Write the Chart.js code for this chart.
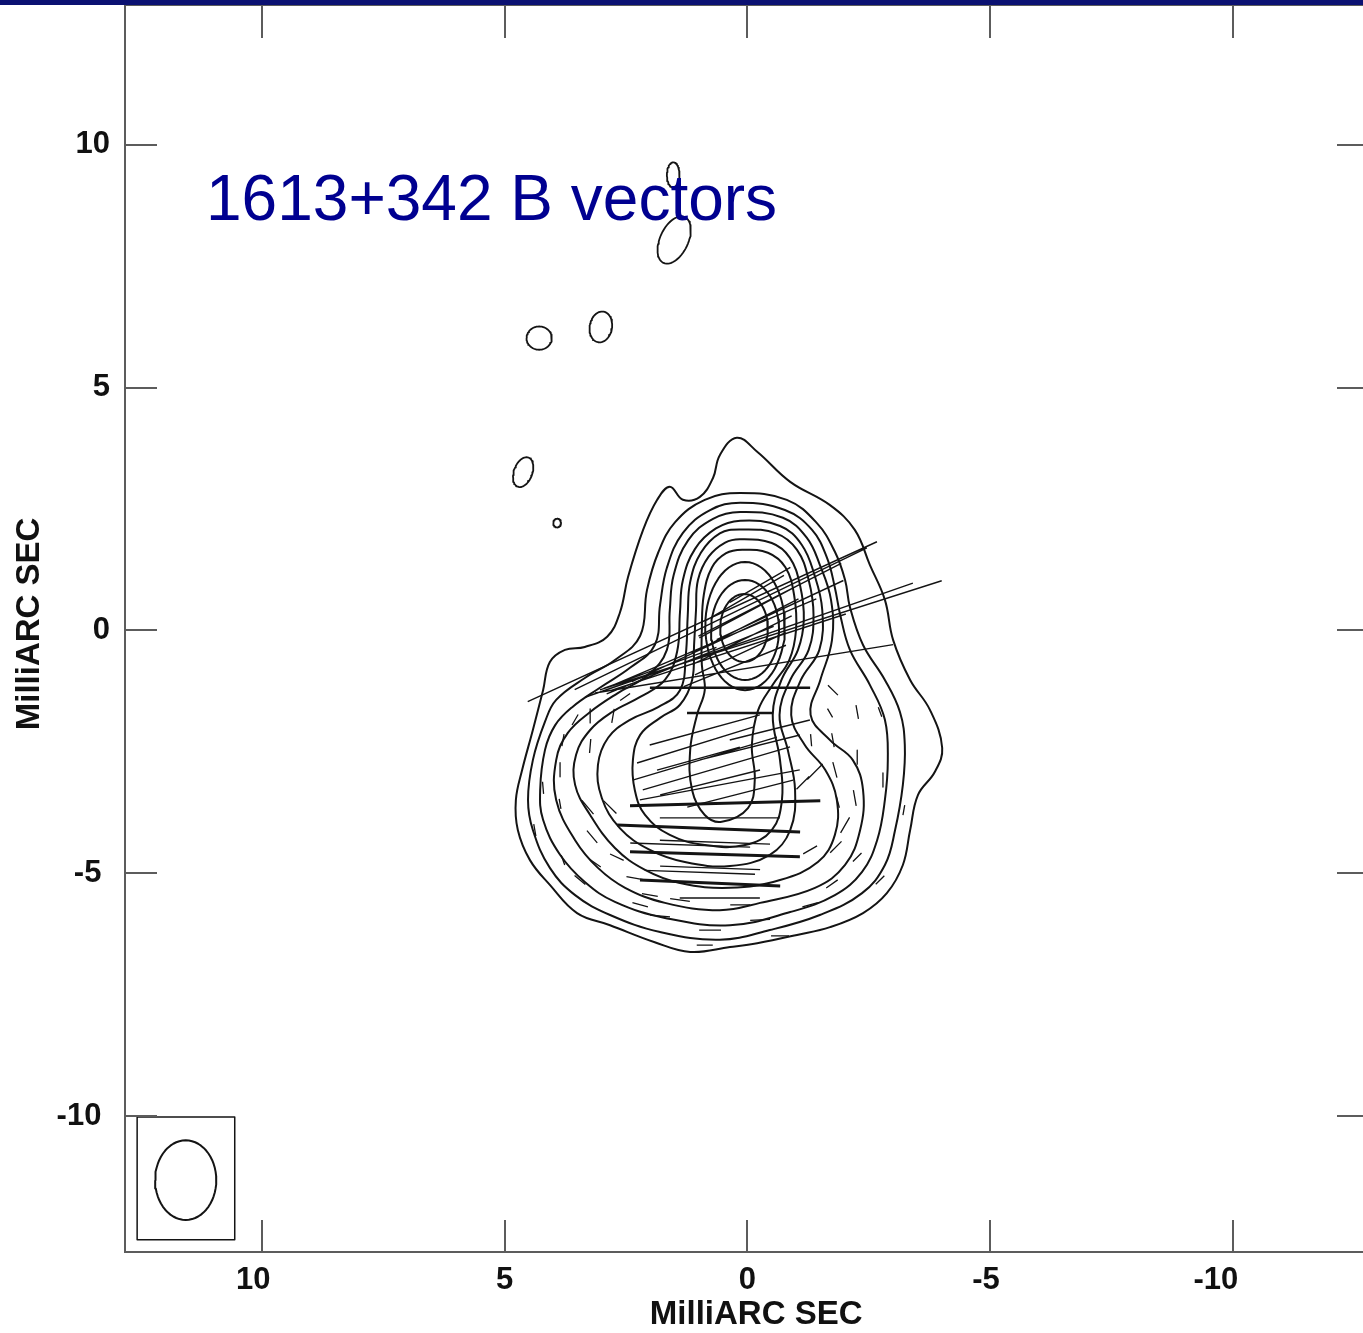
<!DOCTYPE html>
<html lang="en">
<head>
<meta charset="UTF-8">
<title>1613+342 B vectors</title>
<script src="https://cdn.jsdelivr.net/npm/chart.js"></script>
<style>
  body { margin: 0; background: #fff; }
  #wrap { position: relative; width: 1363px; height: 1333px; overflow: hidden; }
  #map { position: absolute; left: 0; top: 0; }
  #topbar { position: absolute; left: 0; top: 0; width: 1363px; height: 5px; background: #0b1172; z-index: 2; }
  #mapTitle { position: absolute; left: 206px; top: 166px; font: 64px "Liberation Sans", Arial, sans-serif;
              line-height: 64px; color: #000090; white-space: nowrap; z-index: 1; }
</style>
</head>
<body>
<div id="wrap">
  <canvas id="map" width="1375" height="1333" style="width:1375px;height:1333px"></canvas>
  <div id="mapTitle">1613+342 B vectors</div>
  <div id="topbar"></div>
</div>
<script>
// tick positions (mas) on both axes
const tickValues = [-10, -5, 0, 5, 10];

// total intensity contours, [RA offset, Dec offset] in mas, lowest level first
const outerContour = [[0.22,3.97],[-0.20,3.68],[-0.88,3.06],[-1.70,2.58],[-2.21,2.07],[-2.52,1.35],[-2.83,0.63],[-3.00,-0.20],
  [-3.35,-1.02],[-3.76,-1.64],[-4.01,-2.42],[-3.86,-2.91],[-3.51,-3.39],[-3.35,-4.11],[-3.20,-4.83],[-2.87,-5.41],[-2.38,-5.82],
  [-1.70,-6.11],[-1.02,-6.27],[-0.20,-6.44],[0.36,-6.52],[1.18,-6.62],[1.91,-6.42],[2.83,-6.07],[3.51,-5.82],[4.07,-5.24],
  [4.48,-4.73],[4.73,-4.11],[4.77,-3.49],[4.64,-2.87],[4.42,-2.05],[4.21,-1.23],[4.07,-0.65],[3.76,-0.40],[3.35,-0.34],
  [2.89,-0.13],[2.63,0.36],[2.46,1.10],[2.15,2.07],[1.86,2.69],[1.60,2.96],[1.33,2.69],[0.98,2.75],[0.71,3.14],[0.57,3.61]];
const contour2 = [[0.15,2.83],[-0.81,2.69],[-1.43,2.21],[-1.80,1.62],[-2.01,1.04],[-2.11,0.48],[-2.38,-0.30],[-2.83,-1.02],
  [-3.14,-1.68],[-3.24,-2.36],[-3.20,-3.18],[-3.04,-4.11],[-2.83,-4.83],[-2.36,-5.41],[-1.49,-5.86],[-0.46,-6.17],[0.57,-6.37],
  [1.80,-6.21],[2.83,-5.86],[3.55,-5.45],[4.07,-4.89],[4.42,-4.11],[4.52,-3.49],[4.42,-2.67],[4.17,-1.88],[3.94,-1.43],
  [3.35,-0.98],[2.73,-0.61],[2.21,-0.11],[2.07,0.83],[1.84,1.60],[1.49,2.23],[0.88,2.69]];
const contour3 = [[0.15,2.63],[-0.77,2.48],[-1.33,2.07],[-1.64,1.49],[-1.80,0.88],[-1.91,0.32],[-2.11,-0.40],[-2.52,-1.12],
  [-2.83,-1.84],[-2.89,-2.67],[-2.83,-3.49],[-2.67,-4.32],[-2.36,-4.97],[-1.80,-5.45],[-0.88,-5.80],[0.36,-6.07],[1.70,-5.92],
  [2.73,-5.59],[3.35,-5.18],[3.86,-4.62],[4.21,-3.90],[4.27,-3.29],[4.17,-2.46],[3.96,-1.95],[3.61,-1.58],[3.04,-1.18],
  [2.42,-0.77],[1.91,-0.30],[1.80,0.53],[1.66,1.29],[1.33,2.01],[0.77,2.48]];
const contour4 = [[0.15,2.44],[-0.73,2.32],[-1.22,1.91],[-1.49,1.35],[-1.72,0.63],[-1.74,-0.20],[-1.50,-1.02],[-1.30,-1.74],
  [-1.70,-2.26],[-2.17,-2.67],[-2.38,-3.29],[-2.32,-4.11],[-2.01,-4.83],[-1.39,-5.30],[-0.26,-5.61],[0.57,-5.76],[1.70,-5.61],
  [2.52,-5.30],[3.08,-4.89],[3.55,-4.32],[3.94,-3.49],[3.94,-2.67],[3.70,-2.11],[3.24,-1.68],[2.67,-1.29],[2.05,-0.92],
  [1.66,-0.40],[1.60,0.42],[1.52,1.14],[1.22,1.86],[0.71,2.30]];
const contour5 = [[0.15,2.26],[-0.67,2.15],[-1.12,1.76],[-1.38,1.14],[-1.54,0.42],[-1.48,-0.40],[-1.10,-1.02],[-0.90,-1.74],
  [-1.18,-2.36],[-1.60,-2.87],[-1.84,-3.49],[-1.80,-4.21],[-1.45,-4.77],[-0.67,-5.14],[0.36,-5.30],[1.39,-5.20],[2.11,-4.93],
  [2.73,-4.48],[3.24,-3.80],[3.55,-3.18],[3.53,-2.56],[3.24,-2.05],[2.79,-1.68],[2.21,-1.37],[1.70,-1.02],[1.45,-0.44],
  [1.39,0.38],[1.33,1.04],[1.08,1.68],[0.65,2.10]];
const contour6 = [[0.15,2.08],[-0.59,2.00],[-1.02,1.66],[-1.26,1.04],[-1.36,0.32],[-1.26,-0.40],[-0.88,-1.02],[-0.66,-1.74],
  [-0.83,-2.46],[-0.98,-3.29],[-0.88,-4.11],[-0.46,-4.62],[0.36,-4.85],[1.29,-4.77],[2.01,-4.52],[2.63,-4.07],[3.00,-3.45],
  [3.08,-2.77],[2.87,-2.21],[2.42,-1.84],[1.84,-1.58],[1.39,-1.23],[1.27,-0.50],[1.23,0.32],[1.18,1.00],[0.96,1.60],[0.57,2.00]];
const contour7 = [[0.15,1.88],[-0.50,1.80],[-0.87,1.50],[-1.08,0.94],[-1.16,0.22],[-1.04,-0.40],[-0.70,-1.02],[-0.52,-1.74],
  [-0.67,-2.67],[-0.71,-3.49],[-0.50,-4.11],[0.05,-4.42],[0.88,-4.42],[1.60,-4.21],[2.11,-3.80],[2.32,-3.29],[2.36,-2.67],
  [2.21,-2.15],[1.80,-1.80],[1.39,-1.53],[1.14,-1.02],[1.10,-0.30],[1.06,0.42],[1.02,1.04],[0.80,1.52],[0.46,1.81]];
const pearContour = [[0.11,1.66],[-0.42,1.60],[-0.78,1.30],[-0.96,0.73],[-1.00,0.01],[-0.86,-0.61],[-0.52,-1.12],[-0.22,-1.64],
  [-0.09,-2.36],[-0.15,-3.08],[-0.01,-3.66],[0.53,-3.94],[0.88,-3.80],[1.14,-3.29],[1.18,-2.46],[1.04,-1.74],[0.88,-1.23],
  [0.94,-0.71],[0.94,0.01],[0.90,0.73],[0.73,1.30],[0.44,1.59]];

// core contours and isolated components: [RA, Dec, half-axis RA, half-axis Dec, tilt deg]
const coreRings = [[0.07,0.05,0.49,0.70,0],[0.05,0.01,0.70,1.03,0],[0.05,0.09,0.82,1.32,0]];
const islands = [[1.53,9.38,0.13,0.26,0],[1.51,8.04,0.29,0.52,25],[4.29,6.02,0.26,0.24,0],
  [3.02,6.25,0.23,0.32,10],[4.62,3.26,0.19,0.32,20],[3.92,2.21,0.08,0.09,0]];
const beam = [11.57, -11.32, 0.63, 0.82, 0];
const beamBox = [12.57, -10.02, 10.56, -12.55];

// B-field vectors: [RA, Dec, length mas, position angle deg]
const coreVectors = [[0.93,0.18,7.91,-65.4],[0.55,0.24,6.69,-64.1],[-0.03,-0.20,7.15,-70.8],[-0.48,-0.10,7.39,-72.3],
  [0.07,-0.79,6.22,-80.8],[0.05,0.67,1.85,-60],[-0.01,0.38,2.27,-62],[0.05,0.09,2.47,-63],[0.11,-0.20,2.27,-64],
  [0.15,-0.48,2.06,-65],[0.26,-0.73,2.27,-68],[-0.26,0.94,1.44,-60],[0.98,-0.40,3.09,-65],[1.18,-0.61,3.71,-68],
  [-0.67,0.42,2.88,-65],[-0.46,0.63,3.30,-63],[1.80,-0.77,2.47,-70],[0.70,-0.25,4.60,-67],[0.40,-0.45,5.10,-72]];
const neckVectors = [[0.36,-1.18,3.30,90],[0.36,-1.70,1.77,90]];
const jetVectors = [[1.08,-2.36,2.50,-72.8],[0.88,-2.64,3.10,-73.4],[0.64,-2.84,3.16,-73.7],[0.57,-3.18,3.35,-79.4],
  [0.15,-3.36,2.25,-75.7],[1.01,-2.64,1.77,-74.5],[0.88,-2.05,2.35,-74.7],[-0.05,-2.41,2.12,-76],[0.77,-3.13,2.12,-76],
  [-0.46,-2.05,1.70,-76],[0.67,-4.36,2.27,88],[0.77,-4.89,2.06,88],[0.57,-3.86,2.47,90],
  [1.18,-4.42,2.47,88],[0.98,-4.98,2.27,88],[0.57,-5.51,1.65,90]];
const thickVectors = [[0.46,-3.56,3.92,-88.5],[0.80,-4.08,3.77,87.8],[0.67,-4.61,3.50,88.3],[0.77,-5.20,2.89,87.5]];
const fieldDashes = [[3.24,-1.76,0.29,0],[2.77,-1.76,0.29,-10],[3.24,-2.38,0.29,-5],[3.80,-2.26,0.25,-10],
  [4.21,-3.24,0.25,5],[3.86,-3.57,0.21,10],[3.80,-4.73,0.21,20],[3.29,-3.64,0.37,40],[2.83,-3.64,0.37,45],
  [3.20,-4.25,0.33,40],[3.14,-4.79,0.29,55],[2.32,-5.10,0.35,80],[2.69,-4.67,0.31,65],[2.52,-1.37,0.25,-55],
  [3.55,-1.84,0.25,-30],[3.86,-2.87,0.29,0],[4.38,-4.11,0.25,10],[2.21,-5.65,0.33,75],[3.45,-5.14,0.29,50],
  [-1.76,-1.23,0.29,45],[-1.70,-1.70,0.21,30],[-2.26,-1.68,0.29,10],[-2.73,-1.68,0.21,20],[-1.76,-2.26,0.29,10],
  [-1.31,-2.26,0.25,5],[-1.80,-2.87,0.33,15],[-2.26,-2.61,0.29,0],[-2.79,-3.08,0.29,0],[-1.86,-3.53,0.25,15],
  [-2.21,-3.45,0.33,10],[-1.82,-4.46,0.33,-45],[-1.74,-5.22,0.29,-55],[-2.26,-4.67,0.25,-45],[-2.73,-5.14,0.25,-45],
  [-3.22,-3.70,0.21,-10],[-1.39,-2.91,0.45,-45],[-1.14,-3.14,0.37,-45],[-2.01,-4.01,0.37,-30],[-1.29,-4.52,0.33,-60],
  [1.80,-5.88,0.41,85],[0.77,-6.17,0.45,90],[-0.26,-5.96,0.41,-87],[-0.67,-6.29,0.37,90],[0.88,-6.48,0.33,90],
  [-1.29,-5.65,0.33,-75],[1.39,-5.55,0.41,82],[0.15,-5.65,0.41,90],[2.01,-5.45,0.33,80]];

const ink = '#141414';

// closed smooth curve: neighbours are wrapped so the spline has no corner at the seam,
// and the two wrap-around pieces are left undrawn
function closedCurve(pts) {
  const n = pts.length;
  return [pts[n - 1], ...pts, pts[0], pts[1]].map(p => ({x: p[0], y: p[1]}));
}

function ellipse(e) {
  const [cx, cy, a, b, tilt] = e;
  const r = tilt * Math.PI / 180;
  const out = [];
  for (let i = 0; i < 60; i++) {
    const t = i / 60 * 2 * Math.PI;
    out.push({
      x: cx + a * Math.cos(t) * Math.cos(r) - b * Math.sin(t) * Math.sin(r),
      y: cy + a * Math.cos(t) * Math.sin(r) + b * Math.sin(t) * Math.cos(r)
    });
  }
  out.push(out[0]);
  return out;
}

// one line piece per vector, broken apart with empty points
function sticks(list) {
  const out = [];
  list.forEach(([x, y, len, pa]) => {
    const a = pa * Math.PI / 180;
    const dx = len / 2 * Math.sin(a), dy = len / 2 * Math.cos(a);
    out.push({x: x + dx, y: y + dy}, {x: x - dx, y: y - dy}, {x: null, y: null});
  });
  return out;
}

function lineSet(data, width, tension) {
  return {data, showLine: true, borderColor: ink, borderWidth: width, pointRadius: 0,
          borderJoinStyle: 'round', borderCapStyle: 'butt', tension, spanGaps: false, fill: false};
}

function contourSet(pts) {
  const set = lineSet(closedCurve(pts), 2, 0.4);
  const last = pts.length + 1;
  set.segment = {
    borderColor: c => (c.p0DataIndex === 0 || c.p0DataIndex === last) ? 'rgba(0,0,0,0)' : undefined
  };
  return set;
}

const datasets = [];
[outerContour, contour2, contour3, contour4, contour5, contour6, contour7, pearContour]
  .forEach(c => datasets.push(contourSet(c)));
coreRings.forEach(e => datasets.push(lineSet(ellipse(e), 2, 0)));
islands.forEach(e => datasets.push(lineSet(ellipse(e), 1.8, 0)));
datasets.push(lineSet(ellipse(beam), 2, 0));
datasets.push(lineSet([
  {x: beamBox[0], y: beamBox[1]}, {x: beamBox[2], y: beamBox[1]}, {x: beamBox[2], y: beamBox[3]},
  {x: beamBox[0], y: beamBox[3]}, {x: beamBox[0], y: beamBox[1]}], 1.5, 0));
datasets.push(lineSet(sticks(coreVectors), 1.4, 0));
datasets.push(lineSet(sticks(neckVectors), 2.4, 0));
datasets.push(lineSet(sticks(jetVectors), 1.4, 0));
datasets.push(lineSet(sticks(thickVectors), 3, 0));
datasets.push(lineSet(sticks(fieldDashes), 1.3, 0));

// frame with inward tick marks on all four sides
const frameTicks = {
  id: 'frameTicks',
  afterDatasetsDraw(chart) {
    const {ctx, chartArea: a, scales: {x, y}} = chart;
    ctx.save();
    ctx.strokeStyle = '#5c5c5c';
    ctx.lineWidth = 2;
    ctx.strokeRect(a.left, a.top, a.right - a.left, a.bottom - a.top);
    ctx.beginPath();
    tickValues.forEach(v => {
      const px = Math.round(x.getPixelForValue(v));
      ctx.moveTo(px, a.top); ctx.lineTo(px, a.top + 33);
      ctx.moveTo(px, a.bottom); ctx.lineTo(px, a.bottom - 32);
      const py = Math.round(y.getPixelForValue(v));
      ctx.moveTo(a.left, py); ctx.lineTo(a.left + 32, py);
      ctx.moveTo(a.right, py); ctx.lineTo(a.right - 32, py);
    });
    ctx.stroke();
    ctx.restore();
  }
};

const labelFont = {family: '"Liberation Sans", Arial, sans-serif', size: 31, weight: 'bold'};
const titleFont = {family: '"Liberation Sans", Arial, sans-serif', size: 33, weight: 'bold'};

// labels are placed by their last digit; the trailing spaces do that
const xLabel = v => {
  const s = String(v);
  const digits = s.replace('-', '').length;
  return s + ' '.repeat(2 * (digits - 1) + (v < 0 ? digits : 0));
};
const yLabel = v => String(v) + (v < 0 ? ' ' : '');

new Chart(document.getElementById('map'), {
  type: 'scatter',
  data: {datasets},
  options: {
    responsive: false,
    devicePixelRatio: 1,
    animation: false,
    events: [],
    layout: {padding: {left: 0, right: 6, top: 5, bottom: 0}},
    plugins: {legend: {display: false}, tooltip: {enabled: false}},
    scales: {
      x: {
        type: 'linear', position: 'bottom', reverse: true, min: -12.80, max: 12.82,
        grid: {display: false, drawTicks: false}, border: {display: false},
        afterBuildTicks: s => { s.ticks = tickValues.map(v => ({value: v})); },
        afterFit: s => { s.height = 81; s.paddingLeft = 0; s.paddingRight = 0; },
        ticks: {font: labelFont, color: '#111', padding: 10, maxRotation: 0, autoSkip: false, callback: xLabel},
        title: {display: true, text: '  MilliARC SEC', font: titleFont, color: '#111', padding: {top: 2, bottom: -2}}
      },
      y: {
        type: 'linear', position: 'left', min: -12.80, max: 12.88,
        grid: {display: false, drawTicks: false}, border: {display: false},
        afterBuildTicks: s => { s.ticks = tickValues.map(v => ({value: v})); },
        afterFit: s => { s.width = 125; s.paddingTop = 0; s.paddingBottom = 0; },
        ticks: {font: labelFont, color: '#111', padding: 15, autoSkip: false, callback: yLabel},
        title: {display: true, text: ' MilliARC SEC', font: titleFont, color: '#111', padding: {top: 10, bottom: 10}}
      }
    }
  },
  plugins: [frameTicks]
});
</script>
</body>
</html>
